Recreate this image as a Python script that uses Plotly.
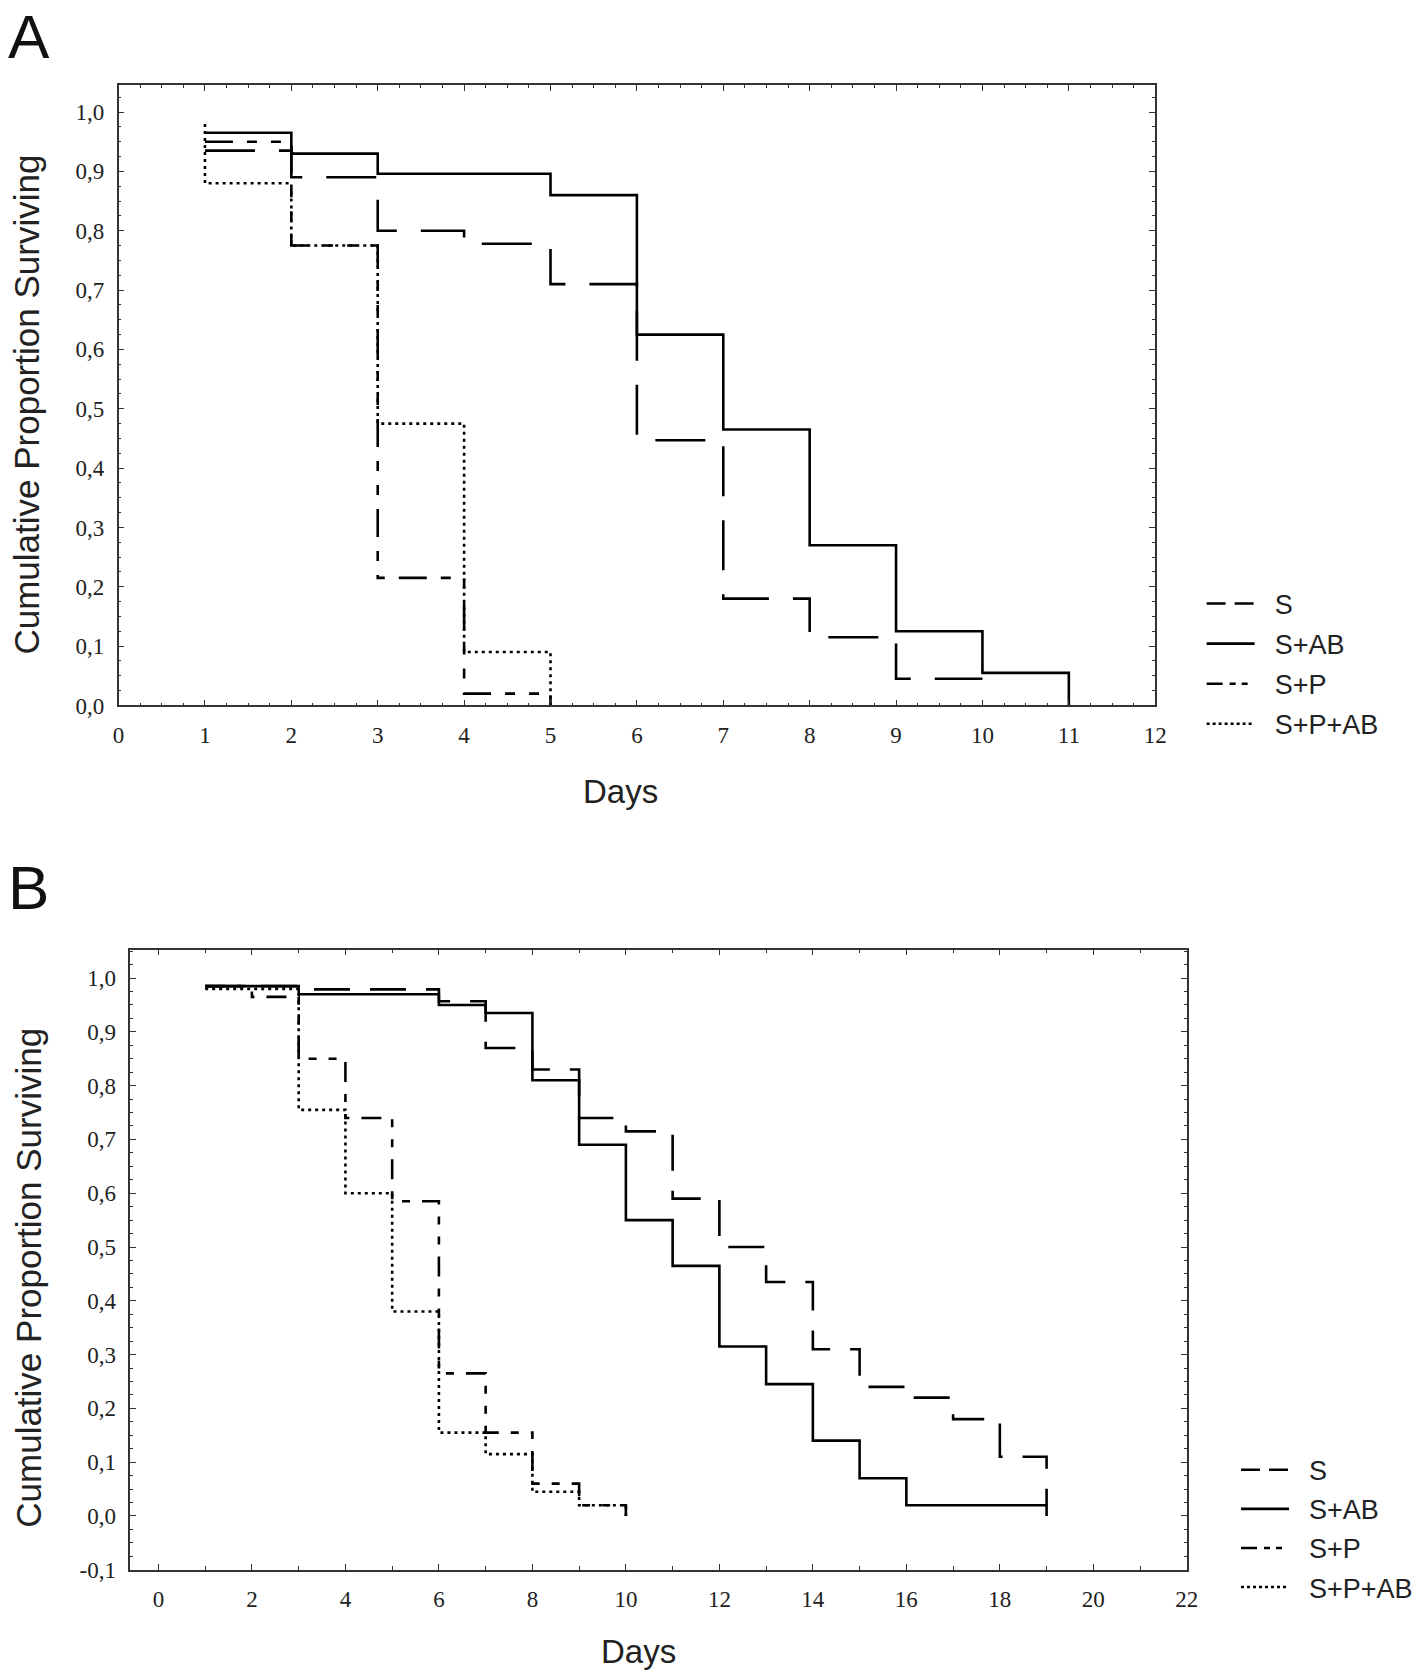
import plotly.graph_objects as go

W, H = 1418, 1676

# ---------------- Panel A data ----------------
A_S_days = [1, 2, 3, 4, 5, 6, 7, 8, 9, 10]
A_S_surv = [0.935, 0.89, 0.80, 0.778, 0.71, 0.447, 0.18, 0.115, 0.045, 0.045]

A_SAB_days = [1, 2, 3, 5, 6, 7, 8, 9, 10, 11]
A_SAB_surv = [0.965, 0.93, 0.896, 0.86, 0.625, 0.465, 0.27, 0.125, 0.055, 0.0]

A_SP_days = [1, 2, 3, 4, 5]
A_SP_surv = [0.95, 0.775, 0.215, 0.02, 0.0]

A_SPAB_days = [1, 1, 2, 3, 4, 5]
A_SPAB_surv = [0.98, 0.88, 0.775, 0.475, 0.09, 0.0]

A_x_ticks = list(range(0, 13))
A_x_ticktext = [str(v) for v in A_x_ticks]
A_y_ticks = [0.0, 0.1, 0.2, 0.3, 0.4, 0.5, 0.6, 0.7, 0.8, 0.9, 1.0]
A_y_ticktext = ["0,0", "0,1", "0,2", "0,3", "0,4", "0,5", "0,6", "0,7", "0,8", "0,9", "1,0"]

# ---------------- Panel B data ----------------
B_S_days = [1, 3, 6, 7, 8, 9, 10, 11, 12, 13, 14, 15, 16, 17, 18, 19]
B_S_surv = [0.985, 0.979, 0.957, 0.87, 0.83, 0.74, 0.715, 0.59, 0.50, 0.435,
            0.31, 0.24, 0.22, 0.18, 0.11, 0.0]

B_SAB_days = [1, 3, 6, 7, 8, 9, 10, 11, 12, 13, 14, 15, 16, 19]
B_SAB_surv = [0.985, 0.97, 0.95, 0.935, 0.81, 0.69, 0.55, 0.465, 0.315, 0.245,
              0.14, 0.07, 0.02, 0.02]

B_SP_days = [1, 2, 3, 4, 5, 6, 7, 8, 9, 10]
B_SP_surv = [0.985, 0.965, 0.85, 0.74, 0.585, 0.265, 0.155, 0.06, 0.02, 0.0]

B_SPAB_days = [1, 3, 4, 5, 6, 7, 8, 9, 10]
B_SPAB_surv = [0.98, 0.755, 0.60, 0.38, 0.155, 0.115, 0.045, 0.02, 0.0]

B_x_ticks = list(range(0, 23, 2))
B_x_ticktext = [str(v) for v in B_x_ticks]
B_y_ticks = [-0.1, 0.0, 0.1, 0.2, 0.3, 0.4, 0.5, 0.6, 0.7, 0.8, 0.9, 1.0]
B_y_ticktext = ["-0,1", "0,0", "0,1", "0,2", "0,3", "0,4", "0,5", "0,6", "0,7",
                "0,8", "0,9", "1,0"]

SERIES_NAMES = ["S", "S+AB", "S+P", "S+P+AB"]

# ---------------- styles ----------------
BLACK = "#000000"
LW = 2.6
DASH_A = {"S": "50px,24px", "S+AB": "solid", "S+P": "28px,14px,10px,14px,10px,14px",
          "S+P+AB": "3px,4px"}
DASH_B = {"S": "36px,20px", "S+AB": "solid", "S+P": "20px,12px,8px,12px,8px,12px",
          "S+P+AB": "3px,4px"}
DASH_LEG = {"S": "19px,9px", "S+AB": "solid", "S+P": "16px,7px,6px,6px,6px",
            "S+P+AB": "3px,3px"}
PAD = "\u00a0\u00a0"

fig = go.Figure()

panelA = {"S": (A_S_days, A_S_surv), "S+AB": (A_SAB_days, A_SAB_surv),
          "S+P": (A_SP_days, A_SP_surv), "S+P+AB": (A_SPAB_days, A_SPAB_surv)}
panelB = {"S": (B_S_days, B_S_surv), "S+AB": (B_SAB_days, B_SAB_surv),
          "S+P": (B_SP_days, B_SP_surv), "S+P+AB": (B_SPAB_days, B_SPAB_surv)}

for name in SERIES_NAMES:
    x, y = panelA[name]
    fig.add_trace(go.Scatter(x=x, y=y, mode="lines", line_shape="hv", name=name,
                             line=dict(color=BLACK, width=LW, dash=DASH_A[name]),
                             xaxis="x", yaxis="y", showlegend=False))
for name in SERIES_NAMES:
    x, y = panelB[name]
    fig.add_trace(go.Scatter(x=x, y=y, mode="lines", line_shape="hv", name=name,
                             line=dict(color=BLACK, width=LW, dash=DASH_B[name]),
                             xaxis="x2", yaxis="y2", showlegend=False))
# legend entries
for leg, xa, ya in (("legend", "x", "y"), ("legend2", "x2", "y2")):
    for name in SERIES_NAMES:
        fig.add_trace(go.Scatter(x=[None], y=[None], mode="lines", name=PAD + name,
                                 line=dict(color=BLACK, width=LW, dash=DASH_LEG[name]),
                                 xaxis=xa, yaxis=ya, legend=leg, showlegend=True,
                                 legendgroup=leg + name))

TICKFONT = dict(family="Liberation Serif", size=23, color="#222222")
SANS = "Liberation Sans"


def axis_common():
    return dict(showline=True, linecolor="#333333", linewidth=1.6, mirror="allticks",
                ticks="inside", ticklen=6, tickwidth=1.4, tickcolor="#333333",
                showgrid=False, zeroline=False, tickfont=TICKFONT,
                ticklabelstandoff=8)


pa = lambda px: px / W
pv = lambda py: 1 - py / H

LEGFONT = dict(family=SANS, size=27, color="#222222")

fig.update_layout(
    width=W, height=H, margin=dict(l=0, r=0, t=0, b=0),
    paper_bgcolor="white", plot_bgcolor="white",
    xaxis=dict(domain=[pa(114), pa(1164)], range=[0, 12], anchor="y",
               tickmode="array", tickvals=A_x_ticks, ticktext=A_x_ticktext,
               minor=dict(ticks="inside", ticklen=3, dtick=0.25, tick0=0,
                          tickcolor="#333333", tickwidth=1.2),
               **axis_common()),
    yaxis=dict(domain=[pv(711), pv(86)], range=[0, 1.045], anchor="x",
               tickmode="array", tickvals=A_y_ticks, ticktext=A_y_ticktext,
               minor=dict(ticks="inside", ticklen=3, dtick=0.025, tick0=0,
                          tickcolor="#333333", tickwidth=1.2),
               **axis_common()),
    xaxis2=dict(domain=[pa(126), pa(1196)], range=[-0.6, 22.0], anchor="y2",
                tickmode="array", tickvals=B_x_ticks, ticktext=B_x_ticktext,
                minor=dict(ticks="inside", ticklen=4, dtick=1, tick0=0,
                           tickcolor="#333333", tickwidth=1.2),
                **axis_common()),
    yaxis2=dict(domain=[pv(1582), pv(957)], range=[-0.1, 1.053], anchor="x2",
                tickmode="array", tickvals=B_y_ticks, ticktext=B_y_ticktext,
                minor=dict(ticks="inside", ticklen=3, dtick=0.025, tick0=0,
                           tickcolor="#333333", tickwidth=1.2),
                **axis_common()),
    legend=dict(x=pa(1211), y=pv(584), xanchor="left", yanchor="top",
                bgcolor="rgba(0,0,0,0)", borderwidth=0, font=LEGFONT,
                itemwidth=48, tracegroupgap=2),
    legend2=dict(x=pa(1246), y=pv(1457), xanchor="left", yanchor="top",
                 bgcolor="rgba(0,0,0,0)", borderwidth=0, font=LEGFONT,
                 itemwidth=48, tracegroupgap=1),
    showlegend=True,
)

annotations = [
    dict(text="A", x=0, y=1.0, xanchor="left", yanchor="top",
         font=dict(family=SANS, size=62, color="#111111")),
    dict(text="B", x=0, y=pv(858), xanchor="left", yanchor="top",
         font=dict(family=SANS, size=62, color="#111111")),
    dict(text="Cumulative Proportion Surviving", x=pa(21), y=pv(408), textangle=-90,
         xanchor="center", yanchor="middle",
         font=dict(family=SANS, size=35, color="#222222")),
    dict(text="Cumulative Proportion Surviving", x=pa(22), y=pv(1288), textangle=-90,
         xanchor="center", yanchor="middle",
         font=dict(family=SANS, size=35, color="#222222")),
    dict(text="Days", x=pa(622), y=pv(798), xanchor="center", yanchor="middle",
         font=dict(family=SANS, size=33, color="#222222")),
    dict(text="Days", x=pa(641), y=pv(1664), xanchor="center", yanchor="middle",
         font=dict(family=SANS, size=33, color="#222222")),
]
for a in annotations:
    a.update(xref="paper", yref="paper", showarrow=False)
fig.update_layout(annotations=annotations)

fig.write_html("out.html", config={"displayModeBar": False},
               post_script="document.body.style.margin='0';document.body.style.overflow='hidden';")
